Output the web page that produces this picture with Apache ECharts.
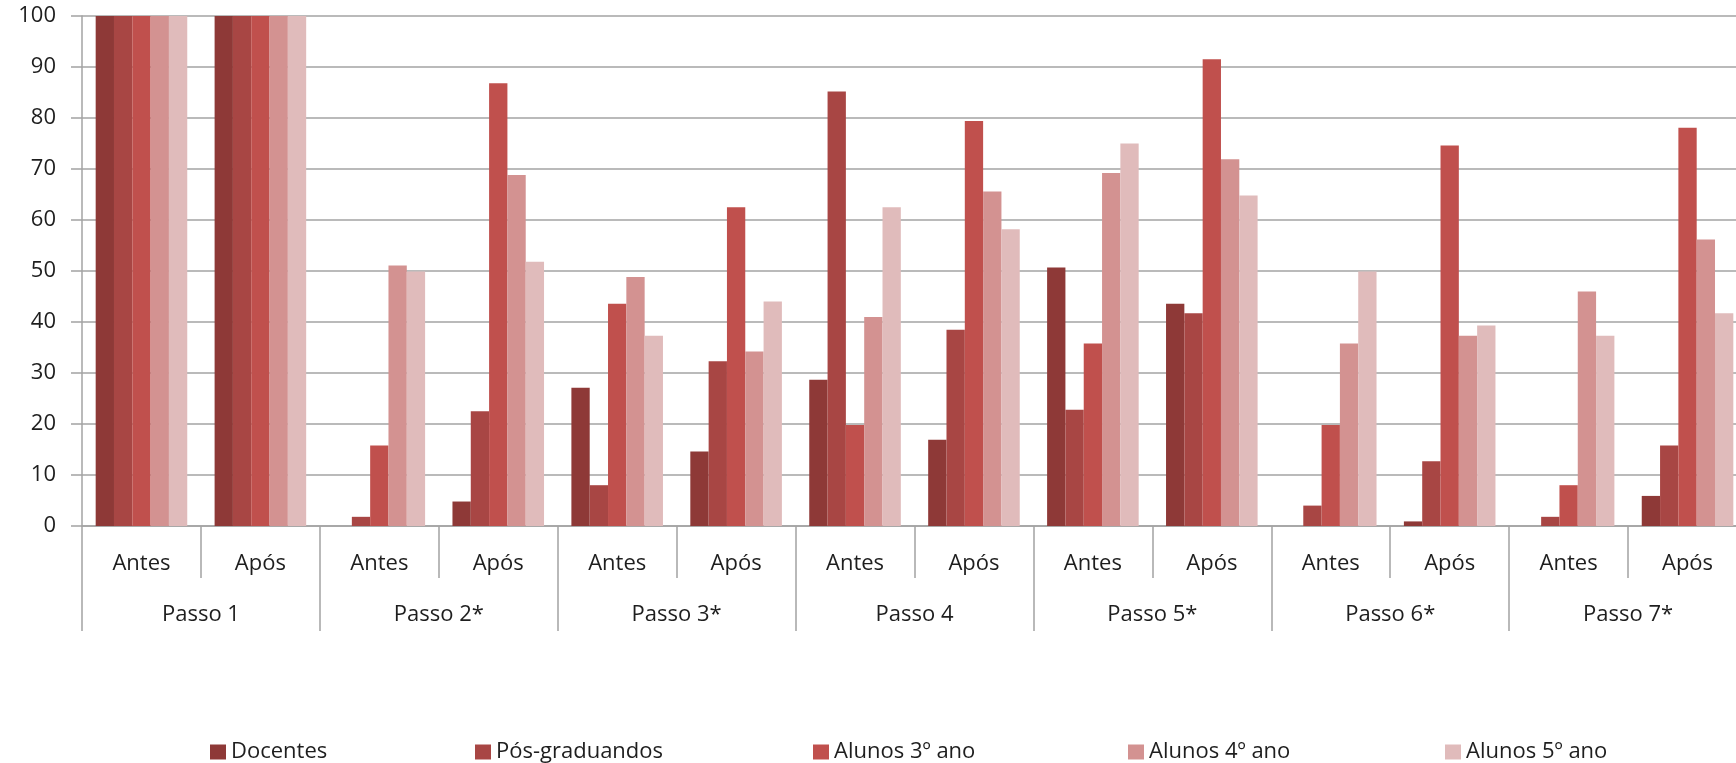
<!DOCTYPE html>
<html>
<head>
<meta charset="utf-8">
<title>Passos – Antes e Após</title>
<script src="https://cdn.jsdelivr.net/npm/echarts@6/dist/echarts.min.js"></script>
<style>
  html, body { margin: 0; padding: 0; background: #ffffff; overflow: hidden; }
  /* the plot runs slightly past the right edge of the window */
  #chart { width: 1747px; height: 763px; }
</style>
</head>
<body>
<div id="chart"></div>
<script>
// Inner category row (moment) and outer row (step)
const moments = ['Antes', 'Após', 'Antes', 'Após', 'Antes', 'Após', 'Antes', 'Após',
                 'Antes', 'Após', 'Antes', 'Após', 'Antes', 'Após'];
const steps = ['Passo 1', 'Passo 2*', 'Passo 3*', 'Passo 4', 'Passo 5*', 'Passo 6*', 'Passo 7*'];

// Percentages per group (Antes/Após for each step)
const docentes = [100, 100, 0, 4.8, 27.1, 14.6, 28.7, 16.9, 50.7, 43.6, 0, 0.9, 0, 5.9];
const posGraduandos = [100, 100, 1.8, 22.5, 8.0, 32.3, 85.2, 38.5, 22.8, 41.7, 4.0, 12.7, 1.8, 15.8];
const alunos3 = [100, 100, 15.8, 86.8, 43.6, 62.5, 19.8, 79.4, 35.8, 91.5, 19.8, 74.6, 8.0, 78.1];
const alunos4 = [100, 100, 51.1, 68.8, 48.8, 34.2, 41.0, 65.6, 69.2, 71.9, 35.8, 37.3, 46.0, 56.2];
const alunos5 = [100, 100, 49.9, 51.8, 37.3, 44.0, 62.5, 58.2, 75.0, 64.8, 49.9, 39.3, 37.3, 41.7];

const yTicks = [0, 10, 20, 30, 40, 50, 60, 70, 80, 90, 100];

const seriesNames = ['Docentes', 'Pós-graduandos', 'Alunos 3º ano', 'Alunos 4º ano', 'Alunos 5º ano'];
const seriesData = [docentes, posGraduandos, alunos3, alunos4, alunos5];
const colors = ['#8e3937', '#a84644', '#c0504d', '#d39291', '#e0bbbb'];
const legendLeft = [205, 470, 808, 1123, 1440];

const FONT = '"Open Sans", "DejaVu Sans", sans-serif';
const TEXT = '#1e1e1e';
const LINE = '#a3a3a3';

const chart = echarts.init(document.getElementById('chart'), null, { renderer: 'canvas' });

const option = {
  backgroundColor: '#ffffff',
  animation: false,
  color: colors,
  textStyle: { fontFamily: FONT },
  grid: { left: 82, right: 0, top: 16, bottom: 237, containLabel: false },
  legend: seriesNames.map((name, i) => ({
    data: [name],
    left: legendLeft[i],
    top: 736,
    icon: 'rect',
    itemWidth: 16,
    itemHeight: 15,
    itemGap: 6,
    textStyle: { fontFamily: FONT, fontSize: 22, color: TEXT },
    selectedMode: false
  })),
  xAxis: [
    {
      type: 'category',
      data: moments,
      position: 'bottom',
      axisLine: { show: true, lineStyle: { color: LINE, width: 1.5 } },
      axisTick: { show: true, interval: 0, length: 52, lineStyle: { color: LINE, width: 1.5 } },
      axisLabel: { interval: 0, margin: 27, fontFamily: FONT, fontSize: 22, lineHeight: 22, color: TEXT },
      splitLine: { show: false }
    },
    {
      type: 'category',
      data: steps,
      position: 'bottom',
      axisLine: { show: false },
      axisTick: { show: true, interval: 0, length: 105, lineStyle: { color: LINE, width: 1.5 } },
      axisLabel: { interval: 0, margin: 78, fontFamily: FONT, fontSize: 22, lineHeight: 22, color: TEXT },
      splitLine: { show: false }
    }
  ],
  yAxis: {
    type: 'value',
    min: yTicks[0],
    max: yTicks[yTicks.length - 1],
    interval: 10,
    axisLine: { show: true, lineStyle: { color: LINE, width: 1.5 } },
    axisTick: { show: true, length: 11, lineStyle: { color: LINE, width: 1.5 } },
    axisLabel: { margin: 26, fontFamily: FONT, fontSize: 22, color: TEXT },
    splitLine: { show: true, lineStyle: { color: LINE, width: 1.5 } }
  },
  series: seriesNames.map((name, i) => ({
    name: name,
    type: 'bar',
    xAxisIndex: 0,
    data: seriesData[i],
    barGap: '0%',
    barCategoryGap: '23%',
    itemStyle: { color: colors[i] }
  }))
};

chart.setOption(option);
</script>
</body>
</html>
